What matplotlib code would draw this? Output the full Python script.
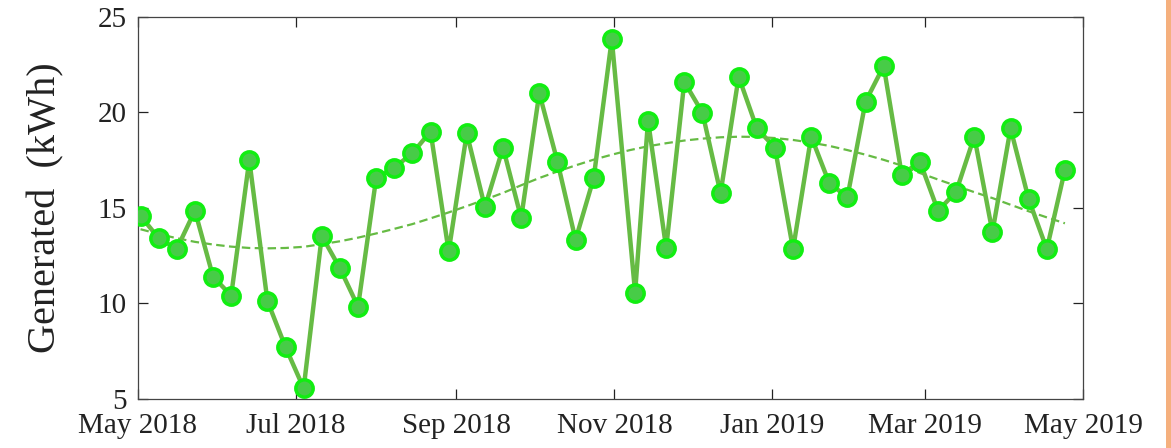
import numpy as np
import pandas as pd
import matplotlib
matplotlib.use('Agg')
import matplotlib.pyplot as plt
import matplotlib.dates as mdates
from matplotlib.patches import Rectangle

# weekly readings, May 2018 - Apr 2019
dates = pd.date_range('2018-05-02', periods=52, freq='7D')
dates = dates.to_series().reset_index(drop=True)
dates[27] = pd.Timestamp('2018-11-09')

generated = [14.58, 13.41, 12.85, 14.85, 11.40, 10.41, 17.50, 10.13, 7.71, 5.56,
             13.53, 11.84, 9.83, 16.55, 17.10, 17.86, 18.99, 12.72, 18.90, 15.03,
             18.15, 14.46, 21.00, 17.42, 13.33, 16.55, 23.83, 10.57, 19.56, 12.89,
             21.59, 19.98, 15.77, 21.86, 19.16, 18.15, 12.84, 18.73, 16.29, 15.56,
             20.56, 22.42, 16.72, 17.42, 14.84, 15.85, 18.73, 13.73, 19.15, 15.45,
             12.84, 16.99]

trend_dates = pd.date_range('2018-05-02', periods=52, freq='7D')
trend = [13.88, 13.63, 13.41, 13.22, 13.08, 12.97, 12.90, 12.88, 12.90, 12.96,
         13.10, 13.25, 13.44, 13.66, 13.90, 14.15, 14.45, 14.76, 15.09, 15.43,
         15.78, 16.18, 16.56, 16.90, 17.22, 17.52, 17.78, 18.02, 18.22, 18.38,
         18.52, 18.62, 18.69, 18.72, 18.71, 18.65, 18.55, 18.41, 18.24, 18.02,
         17.78, 17.51, 17.21, 16.82, 16.48, 16.15, 15.82, 15.51, 15.16, 14.82,
         14.50, 14.19]

line_col = '#66bb44'

plt.rcParams['font.family'] = ['Liberation Serif', 'DejaVu Serif']

fig = plt.figure(figsize=(11.71, 4.48), dpi=100)
ax = fig.add_axes([0.1178, 0.1094, 0.8071, 0.8534])

ax.plot(trend_dates, trend, color=line_col, lw=1.6, dashes=(3.8, 2.0), zorder=2)
ax.plot(dates, generated, color=line_col, lw=3.2, marker='o', markersize=12.5,
        markerfacecolor='#47cc47', markeredgecolor='#11ee11', markeredgewidth=2.5,
        zorder=3)

ax.set_xlim(pd.Timestamp('2018-05-01'), pd.Timestamp('2019-05-01'))
ax.set_ylim(5, 25)
ax.set_yticks([5, 10, 15, 20, 25])
ax.xaxis.set_major_locator(mdates.MonthLocator(bymonth=[1, 3, 5, 7, 9, 11]))
ax.xaxis.set_major_formatter(mdates.DateFormatter('%b %Y'))

ax.tick_params(direction='in', length=7, width=0.9, colors='#222222',
               labelsize=21, top=True, right=True)
ax.tick_params(axis='x', pad=10)
ax.tick_params(axis='y', pad=8)
for sp in ax.spines.values():
    sp.set_color('#444444')
    sp.set_linewidth(0.9)

ax.set_ylabel('Generated  (kWh)', fontsize=29, color='#222222', labelpad=24)

# orange strip on the right edge
fig.patches.append(Rectangle((1166 / 1171, 0), 5 / 1171, 1, transform=fig.transFigure,
                             facecolor='#f5b07e', edgecolor='none'))

fig.savefig('out.png', dpi=100)
